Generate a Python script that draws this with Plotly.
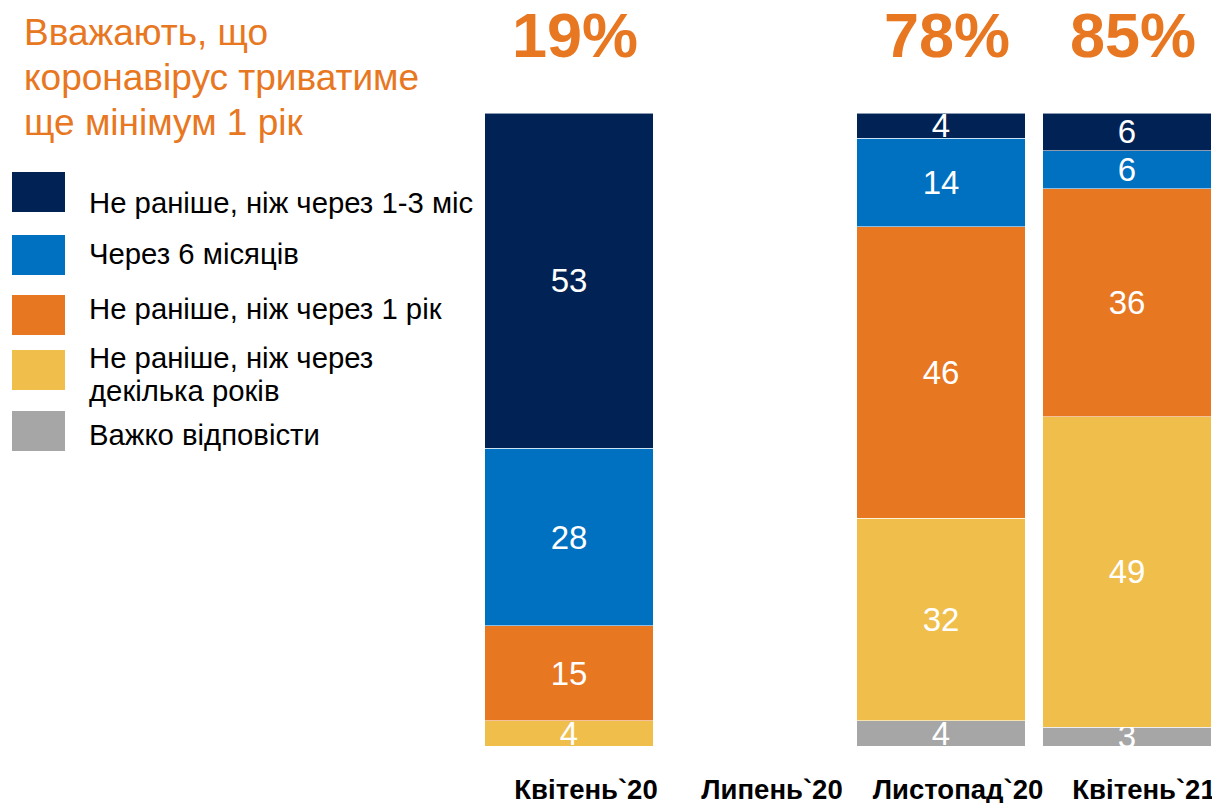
import plotly.graph_objects as go

# categories and stacked values (%), bottom segment first
categories = ["Квітень`20", "Липень`20", "Листопад`20", "Квітень`21"]
hard_to_say = [0, None, 4, 3]
several_years = [4, None, 32, 49]
one_year = [15, None, 46, 36]
six_months = [28, None, 14, 6]
one_three_months = [53, None, 4, 6]
pct_labels = ["19%", "", "78%", "85%"]

series_names = [
    "Важко відповісти",
    "Не раніше, ніж через<br>декілька років",
    "Не раніше, ніж через 1 рік",
    "Через 6 місяців",
    "Не раніше, ніж через 1-3 міс",
]
series_values = [hard_to_say, several_years, one_year, six_months, one_three_months]
colors = ["#A6A6A6", "#F0BE4B", "#E87722", "#0070C0", "#002255"]
title_lines = ["Вважають, що", "коронавірус триватиме", "ще мінімум 1 рік"]

ORANGE = "#E87722"
FONT = "Liberation Sans, Arial, sans-serif"

# the page puts the plot 8px in from the top-left corner
OFF = 8
W, H = 1212, 795
L, R, T, B = 468, 0, 105, 57


def px_x(p):
    # screen pixel -> paper x
    return (p - OFF - L) / (W - L - R)


def px_y(p):
    # screen pixel -> paper y
    return (H - B - (p - OFF)) / (H - T - B)


fig = go.Figure()
for name, vals, col in zip(series_names, series_values, colors):
    fig.add_trace(go.Bar(
        x=categories,
        y=vals,
        name=name,
        marker=dict(color=col, line=dict(color="rgba(255,255,255,0.55)", width=1)),
        text=[str(v) if v else "" for v in vals],
        textposition="inside",
        insidetextanchor="middle",
        textangle=0,
        insidetextfont=dict(family=FONT, size=33, color="white"),
        showlegend=False,
        hoverinfo="skip",
    ))

# big percentages above the bars
for cat, lab in zip(categories, pct_labels):
    if lab:
        fig.add_annotation(
            x=cat, y=1, xref="x", yref="paper", yshift=78, xshift=6,
            text="<b>%s</b>" % lab, showarrow=False,
            font=dict(family=FONT, size=63, color=ORANGE),
            xanchor="center", yanchor="middle",
        )

# title at the top left, one line at a time
for i, line in enumerate(title_lines):
    fig.add_annotation(
        x=px_x(22), y=px_y(33 + 44.5 * i), xref="paper", yref="paper",
        text=line, showarrow=False, xanchor="left", yanchor="middle",
        font=dict(family=FONT, size=37, color=ORANGE),
    )

# hand-drawn legend with big square swatches
legend_rows = [  # (swatch top, text centre)
    (172, 202),
    (235, 254),
    (295, 308),
    (350, 357),
    (411, 434),
]
for (top, mid), name, col in zip(legend_rows, series_names[::-1], colors[::-1]):
    fig.add_shape(
        type="rect", xref="paper", yref="paper",
        x0=px_x(12), x1=px_x(65), y0=px_y(top + 40), y1=px_y(top),
        fillcolor=col, line=dict(width=0),
    )
    for j, part in enumerate(name.split("<br>")):
        fig.add_annotation(
            x=px_x(87), y=px_y(mid + 33 * j), xref="paper", yref="paper",
            text=part, showarrow=False,
            xanchor="left", yanchor="middle",
            font=dict(family=FONT, size=29.3, color="black"),
        )

fig.update_layout(
    barmode="stack",
    bargap=0.093,
    width=W,
    height=H,
    margin=dict(l=L, r=R, t=T, b=B, pad=0),
    plot_bgcolor="white",
    paper_bgcolor="white",
    uniformtext=dict(minsize=33, mode="show"),
    showlegend=False,
)
fig.update_xaxes(
    showgrid=False, showline=False, ticks="", automargin=False,
    tickfont=dict(family=FONT, size=27.5, color="black"),
    tickprefix="<b>", ticksuffix="</b>",
    ticklabelstandoff=24, ticklabelshift=17,
)
fig.update_yaxes(range=[0, 100], visible=False, automargin=False)

fig.write_html("out.html")
